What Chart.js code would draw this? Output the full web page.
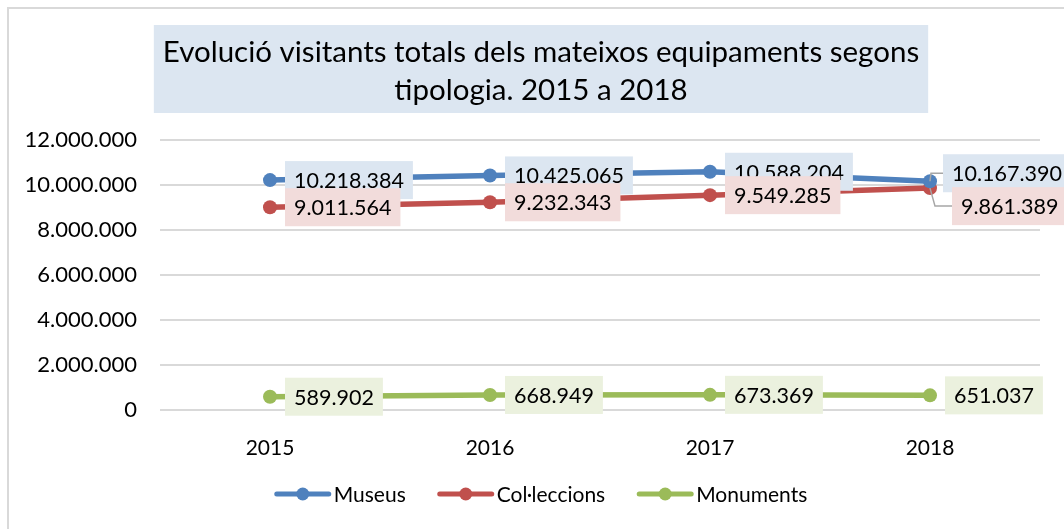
<!DOCTYPE html>
<html>
<head>
<meta charset="utf-8">
<title>Evolució visitants</title>
<script src="https://cdn.jsdelivr.net/npm/chart.js@4.4.0/dist/chart.umd.min.js"></script>
<style>
  html, body { margin: 0; padding: 0; background: #fff; overflow: hidden; }
  #frame { position: absolute; left: 7px; top: 7px; width: 1064px; height: 530px; border: 2px solid #d9d9d9; }
  canvas { display: block; }
</style>
</head>
<body>
<div id="frame"><canvas id="chart" width="1064" height="521"></canvas></div>
<script>
// --- Data ---
const years = ["2015", "2016", "2017", "2018"];
const museus = [10218384, 10425065, 10588204, 10167390];
const colleccions = [9011564, 9232343, 9549285, 9861389];
const monuments = [589902, 668949, 673369, 651037];
const seriesNames = ["Museus", "Col·leccions", "Monuments"];
const titleLines = ["Evolució visitants totals dels mateixos equipaments segons", "tipologia. 2015 a 2018"];
const yMax = 12000000;
const yStep = 2000000;

// --- Styles ---
const FONT = "Lato";
const lineColors = ["#4f81bd", "#c0504d", "#9bbb59"];
const boxColors = ["#dce6f1", "#f2dcdb", "#ebf1de"];
const labelFont = "21.5px " + FONT;
const titleFont = "29.5px " + FONT;

// labels that Excel moved away from the point (with a leader line)
const labelTweaks = {
    "0-3": { dx: 13, dy: -8, leader: true },
    "1-3": { dx: 22, dy: 18, leader: true }
};

function formatNumber(v) {
    return String(Math.round(v)).replace(/\B(?=(\d{3})+(?!\d))/g, ".");
}

// title in a light blue box, centred on the whole chart
const titleBoxPlugin = {
    id: "titleBox",
    beforeDraw(chart) {
        const ctx = chart.ctx;
        ctx.save();
        ctx.font = titleFont;
        const maxW = Math.max(...titleLines.map(t => ctx.measureText(t).width));
        const cx = chart.width / 2;
        ctx.fillStyle = "#dce6f1";
        ctx.fillRect(cx - maxW / 2 - 9, 16, maxW + 18, 88);
        ctx.fillStyle = "#000";
        ctx.textAlign = "center";
        ctx.textBaseline = "middle";
        titleLines.forEach((t, i) => ctx.fillText(t, cx, 43 + i * 38));
        ctx.restore();
    }
};

// value labels in coloured boxes
const dataLabelPlugin = {
    id: "dataLabels",
    afterDatasetsDraw(chart) {
        const ctx = chart.ctx;
        ctx.save();
        ctx.font = labelFont;
        ctx.textBaseline = "middle";
        ctx.textAlign = "left";
        chart.data.datasets.forEach((ds, di) => {
            const meta = chart.getDatasetMeta(di);
            meta.data.forEach((pt, i) => {
                const tw = ctx.measureText(formatNumber(ds.data[i])).width;
                const tweak = labelTweaks[di + "-" + i] || { dx: 15, dy: 0 };
                const bx = pt.x + tweak.dx;
                const cy = pt.y + tweak.dy;
                const bh = 38;
                if (tweak.leader) {
                    ctx.strokeStyle = "#a6a6a6";
                    ctx.lineWidth = 1.5;
                    ctx.beginPath();
                    ctx.moveTo(pt.x, pt.y);
                    ctx.lineTo(pt.x + (tweak.dy > 0 ? 5 : 1), cy);
                    ctx.lineTo(bx, cy);
                    ctx.stroke();
                }
                ctx.fillStyle = boxColors[di];
                ctx.fillRect(bx, cy - bh / 2, tw + 18, bh);
                ctx.fillStyle = "#000";
                ctx.fillText(formatNumber(ds.data[i]), bx + 9, cy + 1);
            });
        });
        ctx.restore();
    }
};

// legend: line with a circle marker, then the name
const legendPlugin = {
    id: "lineLegend",
    afterDraw(chart) {
        const ctx = chart.ctx;
        ctx.save();
        ctx.font = "21px " + FONT;
        ctx.textBaseline = "middle";
        const lineW = 56, gapText = 3, gapItem = 32;
        const widths = seriesNames.map(n => lineW + gapText + ctx.measureText(n).width);
        const total = widths.reduce((a, b) => a + b, 0) + gapItem * (seriesNames.length - 1);
        let x = chart.width / 2 - total / 2;
        const y = 485;
        seriesNames.forEach((name, i) => {
            ctx.strokeStyle = lineColors[i];
            ctx.lineWidth = 5;
            ctx.lineCap = "round";
            ctx.beginPath();
            ctx.moveTo(x + 2, y);
            ctx.lineTo(x + lineW - 2, y);
            ctx.stroke();
            ctx.fillStyle = lineColors[i];
            ctx.beginPath();
            ctx.arc(x + lineW / 2, y, 6.5, 0, Math.PI * 2);
            ctx.fill();
            ctx.fillStyle = "#000";
            ctx.fillText(name, x + lineW + gapText, y + 1);
            x += widths[i] + gapItem;
        });
        ctx.restore();
    }
};

function makeDataset(label, data, color) {
    return {
        label: label,
        data: data,
        borderColor: color,
        backgroundColor: color,
        borderWidth: 5.5,
        borderCapStyle: "round",
        pointRadius: 7,
        pointHoverRadius: 7,
        pointBorderWidth: 0,
        pointBackgroundColor: color,
        tension: 0,
        clip: false
    };
}

new Chart(document.getElementById("chart"), {
    type: "line",
    data: {
        labels: years,
        datasets: [
            makeDataset(seriesNames[0], museus, lineColors[0]),
            makeDataset(seriesNames[1], colleccions, lineColors[1]),
            makeDataset(seriesNames[2], monuments, lineColors[2])
        ]
    },
    options: {
        responsive: false,
        animation: false,
        layout: { padding: { top: 131, left: 0, right: 33, bottom: 0 } },
        plugins: {
            legend: { display: false },
            tooltip: { enabled: false },
            title: { display: false }
        },
        scales: {
            x: {
                offset: true,
                grid: { display: false },
                border: { display: false },
                ticks: { color: "#000", font: { family: FONT, size: 21 }, padding: 18 },
                afterFit(scale) { scale.height = 120; }
            },
            y: {
                min: 0,
                max: yMax,
                grid: { color: "#d9d9d9", lineWidth: 2, drawTicks: false },
                border: { display: false },
                ticks: {
                    stepSize: yStep,
                    color: "#000",
                    font: { family: FONT, size: 22 },
                    padding: 23,
                    callback: v => formatNumber(v)
                },
                afterFit(scale) { scale.width = 151; }
            }
        }
    },
    plugins: [titleBoxPlugin, dataLabelPlugin, legendPlugin]
});
</script>
</body>
</html>
